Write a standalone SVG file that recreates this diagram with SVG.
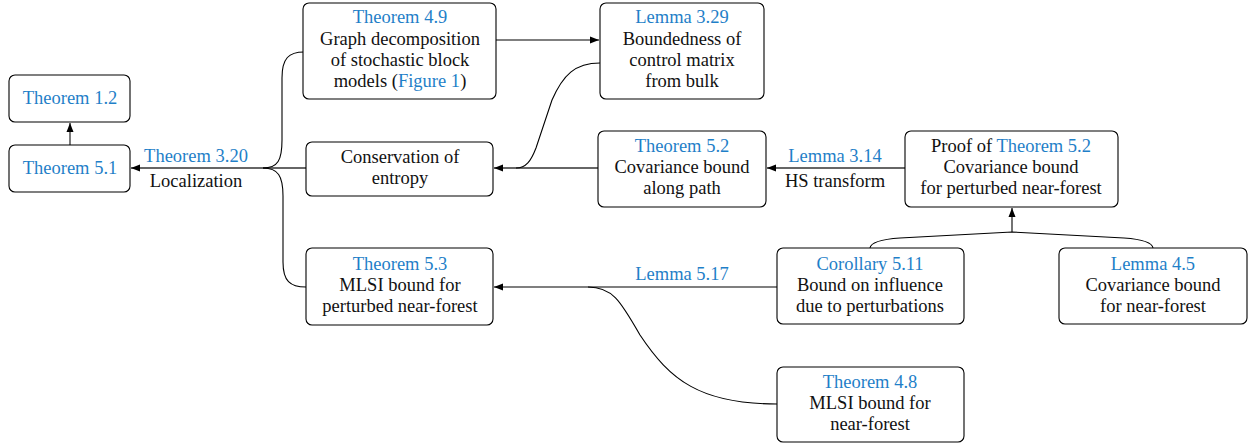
<svg xmlns="http://www.w3.org/2000/svg" width="1250" height="444" viewBox="0 0 1250 444">
<defs>
<marker id="ah" markerUnits="userSpaceOnUse" markerWidth="10" markerHeight="8" refX="9" refY="4" orient="auto">
<path d="M0,0.5 L9,4 L0,7.5 Z" fill="#000"/>
</marker>
<style>
.box{fill:#fff;stroke:#000;stroke-width:1.1}
text{font-family:"Liberation Serif",serif;font-size:18.5px;fill:#111;text-anchor:middle}
.ref{fill:#1f7fc8}
.c{fill:none;stroke:#000;stroke-width:1.1}
.s{fill:none;stroke:#333;stroke-width:1.3}
</style>
</defs>
<g id="connectors">
<path class="s" d="M70,145 V123" marker-end="url(#ah)"/>
<path class="s" d="M306,168 H131" marker-end="url(#ah)"/>
<path class="c" d="M263,168 C278,168 282,160 282,140 V78 C282,58 289,52 304,52"/>
<path class="c" d="M263,168 C278,168 283,176 283,196 V262 C283,281 290,287 306,287"/>
<path class="c" d="M496,40 H599" marker-end="url(#ah)"/>
<path class="s" d="M598,168 H494" marker-end="url(#ah)"/>
<path class="c" d="M600,63 C575,63 563,75 552,100 L536,148 C531,161 526,168 516,168"/>
<path class="s" d="M905,168 H767" marker-end="url(#ah)"/>
<path class="c" d="M870,248 Q871,240 900,238 L1012,232 M1153,248 Q1152,240 1124,238 L1012,232"/>
<path class="c" d="M1012,232 V208" marker-end="url(#ah)"/>
<path class="c" d="M777,287 H494" marker-end="url(#ah)"/>
<path class="c" d="M777,404 C700,404 670,380 640,335 C620,300 612,287 588,287"/>
<text x="196" y="162" class="ref">Theorem 3.20</text>
<text x="196" y="187">Localization</text>
<text x="835" y="162" class="ref">Lemma 3.14</text>
<text x="835" y="187">HS transform</text>
<text x="682" y="280" class="ref">Lemma 5.17</text>
</g>
<g id="thm12">
<rect class="box" x="9" y="75" width="121" height="47" rx="6"/>
<text x="70" y="104" class="ref">Theorem 1.2</text>
</g>
<g id="thm51">
<rect class="box" x="9" y="145" width="121" height="47" rx="6"/>
<text x="70" y="174" class="ref">Theorem 5.1</text>
</g>
<g id="thm49">
<rect class="box" x="303" y="3" width="193" height="96" rx="6"/>
<text x="400" y="23" class="ref">Theorem 4.9</text>
<text x="400" y="45">Graph decomposition</text>
<text x="400" y="66">of stochastic block</text>
<text x="400" y="87">models (<tspan class="ref">Figure 1</tspan>)</text>
</g>
<g id="lem329">
<rect class="box" x="600" y="3" width="164" height="96" rx="6"/>
<text x="682" y="23" class="ref">Lemma 3.29</text>
<text x="682" y="45">Boundedness of</text>
<text x="682" y="66">control matrix</text>
<text x="682" y="87">from bulk</text>
</g>
<g id="conservation">
<rect class="box" x="306" y="142" width="187" height="54" rx="6"/>
<text x="400" y="163">Conservation of</text>
<text x="400" y="184">entropy</text>
</g>
<g id="thm52">
<rect class="box" x="598" y="131" width="168" height="76" rx="6"/>
<text x="682" y="152" class="ref">Theorem 5.2</text>
<text x="682" y="173">Covariance bound</text>
<text x="682" y="194">along path</text>
</g>
<g id="proof52">
<rect class="box" x="905" y="131" width="213" height="76" rx="6"/>
<text x="1011" y="152">Proof of <tspan class="ref">Theorem 5.2</tspan></text>
<text x="1011" y="173">Covariance bound</text>
<text x="1011" y="194">for perturbed near-forest</text>
</g>
<g id="thm53">
<rect class="box" x="306" y="248" width="187" height="77" rx="6"/>
<text x="400" y="270" class="ref">Theorem 5.3</text>
<text x="400" y="291">MLSI bound for</text>
<text x="400" y="312">perturbed near-forest</text>
</g>
<g id="cor511">
<rect class="box" x="777" y="248" width="187" height="76" rx="6"/>
<text x="870" y="270" class="ref">Corollary 5.11</text>
<text x="870" y="291">Bound on influence</text>
<text x="870" y="312">due to perturbations</text>
</g>
<g id="lem45">
<rect class="box" x="1059" y="248" width="188" height="76" rx="6"/>
<text x="1153" y="270" class="ref">Lemma 4.5</text>
<text x="1153" y="291">Covariance bound</text>
<text x="1153" y="312">for near-forest</text>
</g>
<g id="thm48">
<rect class="box" x="777" y="367" width="187" height="75" rx="6"/>
<text x="870" y="388" class="ref">Theorem 4.8</text>
<text x="870" y="409">MLSI bound for</text>
<text x="870" y="430">near-forest</text>
</g>
</svg>
